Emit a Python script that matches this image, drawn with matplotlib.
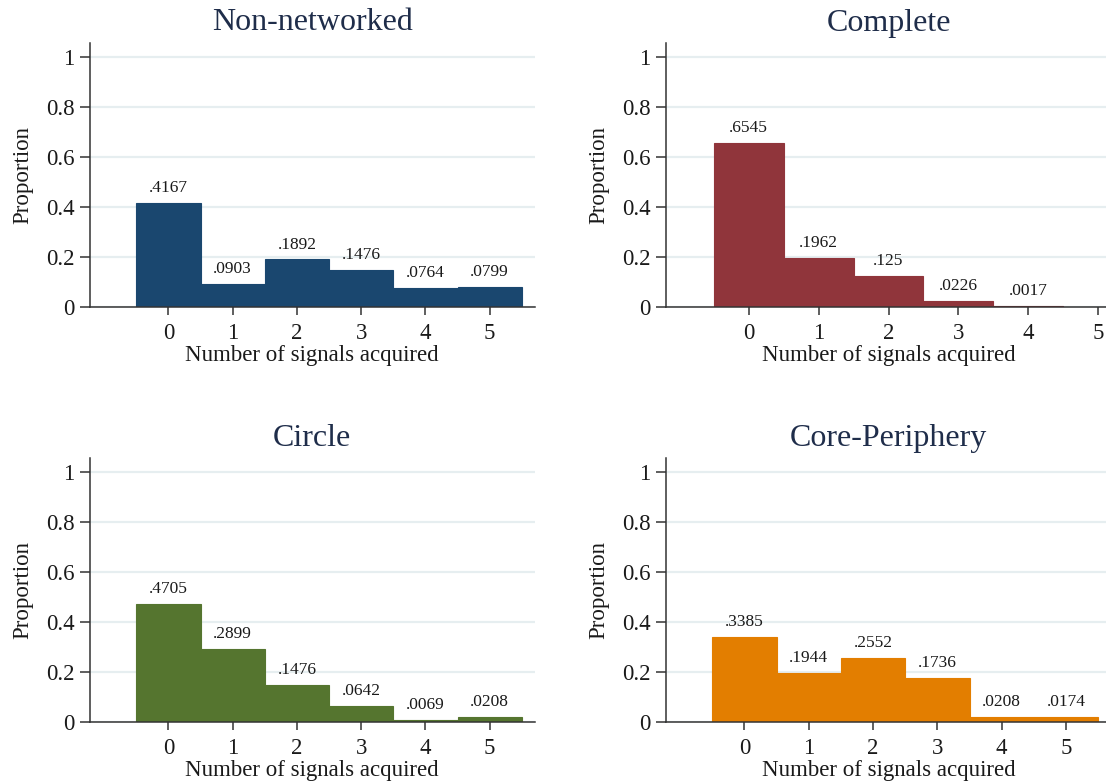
import numpy as np
import matplotlib
matplotlib.use('Agg')
import matplotlib.pyplot as plt

plt.rcParams['font.family'] = ['Liberation Serif', 'DejaVu Serif']

# Data: proportion of subjects by number of signals acquired
signals = [0, 1, 2, 3, 4, 5]
non_networked = [.4167, .0903, .1892, .1476, .0764, .0799]
complete = [.6545, .1962, .125, .0226, .0017]
circle = [.4705, .2899, .1476, .0642, .0069, .0208]
core_periphery = [.3385, .1944, .2552, .1736, .0208, .0174]

titles = ['Non-networked', 'Complete', 'Circle', 'Core-Periphery']
series = [non_networked, complete, circle, core_periphery]
colors = ['#1a476f', '#90353b', '#55752f', '#e37e00']
yticks = [0, 0.2, 0.4, 0.6, 0.8, 1]
ytick_labels = ['0', '0.2', '0.4', '0.6', '0.8', '1']

# axes boxes in figure fractions, and x ranges
W, H = 1106, 784
boxes = [(89.7, 306.7), (666, 306.7), (89.7, 721.7), (666, 721.7)]
xlims = [(-1.225, 5.70), (-1.18, 5.18), (-1.225, 5.70), (-1.22, 5.70)]
ax_w, ax_h = 445, 263.7

fig = plt.figure(figsize=(W / 100, H / 100), dpi=100)
fig.patch.set_facecolor('white')

for (x0, y0), xl, title, vals, col in zip(boxes, xlims, titles, series, colors):
    ax = fig.add_axes([x0 / W, (H - y0) / H, ax_w / W, ax_h / H])
    xs = signals[:len(vals)]
    ax.bar(xs, vals, width=1.0, color=col, edgecolor=col, linewidth=0.8, zorder=2)
    for x, v in zip(xs, vals):
        lab = '{:.4g}'.format(v).lstrip('0')
        ax.annotate(lab, (x, v), xytext=(0, 5), textcoords='offset points',
                    ha='center', va='bottom', fontsize=12.5, color='#1a1a1a')
    ax.set_xlim(*xl)
    ax.set_ylim(0, 1.057)
    ax.set_xticks(signals)
    ax.set_yticks(yticks)
    ax.set_yticklabels(ytick_labels)
    ax.yaxis.grid(True, color='#e6eef0', linewidth=1.6, zorder=0)
    ax.set_axisbelow(True)
    for s in ['top', 'right']:
        ax.spines[s].set_visible(False)
    for s in ['left', 'bottom']:
        ax.spines[s].set_color('#333333')
        ax.spines[s].set_linewidth(1.1)
    ax.tick_params(axis='x', length=5.5, width=1.1, color='#333333', pad=6,
                   labelsize=16.5, labelcolor='#1a1a1a')
    ax.tick_params(axis='y', length=7, width=1.1, color='#333333', pad=4,
                   labelsize=16.5, labelcolor='#1a1a1a')
    ax.set_xlabel('Number of signals acquired', fontsize=16.5, labelpad=1, color='#1a1a1a')
    ax.set_ylabel('Proportion', fontsize=16.5, labelpad=9, color='#1a1a1a')
    ax.set_title(title, fontsize=23, pad=9, color='#1f2d4a')

fig.savefig('out.png', dpi=100, facecolor='white')
